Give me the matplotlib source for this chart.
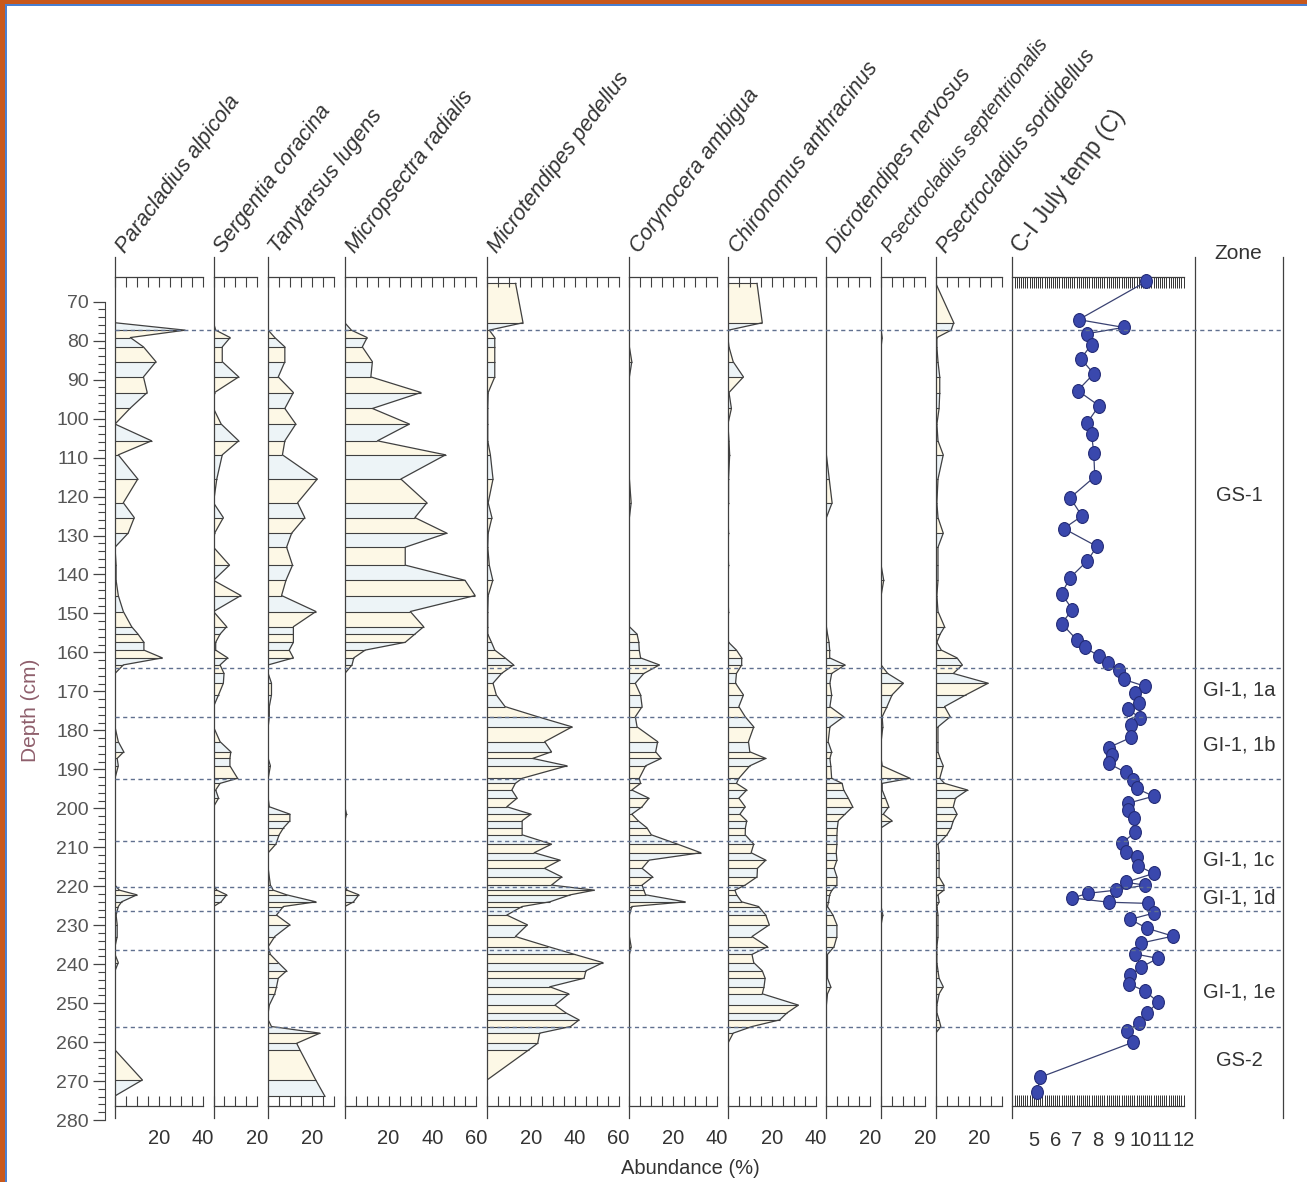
import numpy as np
import matplotlib
matplotlib.use('Agg')
import matplotlib.pyplot as plt
from matplotlib.lines import Line2D
from matplotlib.patches import Rectangle
from matplotlib.path import Path
from matplotlib.transforms import blended_transform_factory

plt.rcParams['font.family'] = ['Liberation Sans', 'DejaVu Sans']

# ---- chironomid counts (depth in cm, % abundance) ----
depth = [65.3, 75.4, 77.3, 79.2, 81.6, 85.4, 89.3, 93.3, 97.4, 101.4,
         105.7, 109.3, 115.5, 121.6, 125.4, 129.4, 133.0, 137.6, 141.5, 145.4,
         149.5, 153.4, 155.3, 157.4, 159.4, 161.4, 163.2, 165.4, 167.9, 170.9,
         173.9, 176.5, 179.1, 182.9, 185.5, 187.2, 189.1, 192.3, 193.6, 195.3,
         197.4, 199.6, 201.5, 203.2, 205.0, 206.8, 209.2, 211.4, 213.3, 215.4,
         217.6, 219.7, 221.0, 222.2, 224.0, 225.2, 227.4, 229.9, 232.9, 235.5,
         237.5, 239.6, 241.7, 243.6, 245.8, 247.6, 250.5, 252.5, 254.3, 256.0,
         257.7, 260.3, 262.0, 269.7, 273.8]

paracladius = [0, 0, 32, 7, 13, 18.7, 13, 14.7, 6.8, 0,
               16.7, 1.5, 10.4, 3.8, 8.8, 6, 0, 0.5, 0.5, 1.5,
               3.8, 7.6, 10.5, 13.2, 13.2, 21.6, 3.8, 0, 0, 0,
               0, 0, 0, 1.5, 4, 1, 1.5, 0, 0, 0,
               0, 0, 0, 0, 0, 0, 0, 0, 0, 0,
               0, 0, 2, 10, 3, 1.5, 0.5, 1, 1, 0,
               0, 1.5, 0, 0, 0, 0, 0, 0, 0, 0,
               0, 0, 0, 12.5, 0]

sergentia = [0, 0, 1, 7.6, 4, 4, 11.5, 0.5, 0, 3.5,
             11.5, 4, 1.5, 0, 4.5, 0.5, 0, 7.3, 0, 12.5,
             0, 6, 3, 1, 1, 6.5, 3, 4.8, 4.5, 2.3,
             0, 0, 0, 3, 7.9, 7.5, 7.5, 11, 3, 1,
             2.3, 0, 0, 0, 0, 0, 0, 0, 0, 0,
             0, 0, 1.5, 6, 3.5, 0, 0, 0, 0, 0,
             0, 0, 0, 0, 0, 0, 0, 0, 0, 0,
             0, 0, 0, 0, 0]

tanytarsus = [0, 0, 0, 3, 7.6, 7.6, 4.6, 11.5, 7.6, 12.6,
              7.6, 6.5, 22.4, 13.4, 16.7, 10.7, 8.4, 11.1, 8.1, 6.1,
              21.8, 11.5, 11.5, 11.5, 9.6, 11.5, 0, 0, 1.5, 1.5,
              0.5, 0.5, 0, 0, 0, 0, 1, 0, 0, 0,
              0, 0.5, 9.9, 9.9, 7, 5, 3.5, 0, 0, 0,
              0.5, 1, 2.3, 8.4, 21.8, 6.9, 3.8, 9.9, 3, 0,
              1, 4.6, 8.4, 4.6, 3.8, 3, 0.5, 0, 0, 1.5,
              23.6, 13, 14.5, 21.7, 25.8]

micropsectra = [0, 0, 3, 10.2, 8, 12.6, 11.9, 34.8, 12.6, 29.5,
                14.9, 46, 25.6, 37.5, 32, 46.6, 27.6, 27.6, 54.9, 59.5,
                29.9, 36, 32, 27.6, 9.3, 4.1, 3.3, 0, 0, 0,
                0, 0, 0, 0, 0, 0, 0, 0, 0, 0,
                0, 0, 0.8, 0, 0, 0, 0, 0, 0, 0,
                0, 0, 1, 6.4, 4, 0, 0, 0, 0, 0,
                0, 0, 0, 0, 0, 0, 0, 0, 0, 0,
                0, 0, 0, 0, 0]

microtendipes = [13, 16.4, 1, 3.5, 3.5, 3.5, 3.5, 0.5, 0.3, 0.3,
                 0.3, 1.5, 2.7, 0.5, 2.2, 0.5, 0.3, 1, 2.6, 0.5,
                 0.3, 0.3, 0.3, 2, 3.5, 8.2, 12.1, 6.6, 2.7, 4.2,
                 8.2, 23.1, 38.8, 26.3, 29.4, 20.8, 36.5, 16, 12.9, 11.3,
                 13.7, 9, 20, 16, 16, 16, 29.4, 21.5, 33.3, 26.2,
                 34.1, 29.4, 49, 38, 28.6, 16, 9, 18.4, 12.9, 28,
                 40, 52.9, 45.1, 44.3, 28.6, 37.3, 31, 36, 42, 38.1,
                 24, 23.1, 19, 0, 0]

corynocera = [0, 0, 0, 0, 0, 1.1, 0, 0, 0, 0,
              0, 0, 0, 0.8, 0, 0, 0, 0, 0, 0,
              0, 0, 3.5, 4.3, 4.5, 5.1, 13.7, 6.6, 2.7, 5.1,
              5.8, 2.7, 3.5, 12.9, 12, 14.5, 7.4, 4.5, 5.1, 1.1,
              8.9, 5.8, 1.1, 4, 8, 10, 22, 32.6, 9, 5.8,
              10.6, 5.8, 6.6, 7.4, 25.5, 1.1, 0, 0, 0, 0.8,
              0, 0, 0, 0, 0, 0, 0, 0, 0, 0,
              0, 0, 0, 0, 0]

chironomus = [13.3, 15.7, 0.3, 0, 0.5, 2.4, 7.1, 0.5, 1.6, 0,
              0.5, 0.8, 0.3, 0.3, 0, 0.3, 0, 0.3, 0, 0,
              0.3, 0, 0, 0.3, 3.9, 6.3, 6.3, 3.9, 3.5, 7.1,
              5, 7.9, 11.8, 9.4, 10, 17.3, 10, 5, 3.9, 8.6,
              5, 7.9, 5.5, 8.6, 8, 7.9, 11.8, 10.6, 17.3, 13.5,
              13.3, 7.9, 3.2, 4, 6.3, 14, 17.3, 18.9, 11, 18.1,
              11, 11.8, 15.7, 17, 16.5, 15.7, 32.2, 27, 23.6, 11,
              2.4, 0, 0, 0, 0]

dicrotendipes = [0, 0, 0, 0, 0, 0, 0, 0, 0, 0,
                 0, 0, 1.3, 2.6, 0, 0, 0, 0, 0, 0,
                 0, 0, 0.5, 1.2, 1.5, 1.5, 8.5, 2.4, 1.6, 2.4,
                 1.6, 7.9, 1.6, 0.8, 2.4, 1.6, 2, 2.4, 7.2, 7.9,
                 10, 12, 8.5, 5.4, 5, 4.8, 4.8, 4.5, 4.8, 3.5,
                 4.8, 4.8, 2.5, 1.5, 1, 0.5, 3, 4.8, 4.8, 3.5,
                 0.5, 0.5, 0.5, 0.5, 2, 0.5, 0, 0, 0, 0,
                 0, 0, 0, 0, 0]

ps_septentrionalis = [0, 0, 0, 0.5, 0, 0, 0, 0, 0, 0,
                      0, 0, 0, 0, 0, 0, 0, 0, 1.2, 0,
                      0, 0, 0, 0, 0, 0, 0, 3, 10.2, 5,
                      2.7, 0.5, 0.8, 0, 0, 0, 0.5, 13.2, 0.5, 0.5,
                      2, 3.5, 1, 5, 0, 0, 0, 0, 0, 0,
                      0, 0, 0, 0, 0, 0, 0.8, 0, 0, 0,
                      0, 0, 0, 0, 0, 0, 0, 0, 0, 0,
                      0, 0, 0, 0, 0]

ps_sordidellus = [0, 8.2, 7, 0.5, 0.5, 1, 1.8, 1.8, 1.5, 0.5,
                  1, 3.4, 1, 0.5, 1, 3.4, 1, 1, 1, 0.5,
                  1, 4, 2, 0.5, 2.5, 9.7, 12.1, 8, 23.9, 13.7,
                  4, 6.6, 1, 1, 1, 2, 3.4, 1.8, 4, 14.5,
                  9, 8, 9.7, 8, 7, 5.1, 1, 1.5, 1.5, 1.5,
                  1.5, 3.7, 3.7, 1, 1.5, 0.5, 1, 1, 1, 0.5,
                  0.5, 0.5, 1, 1.5, 3.4, 1.5, 0.5, 0.5, 1.5, 2.3,
                  0, 0, 0, 0, 0]

taxa_names = ['Paracladius alpicola', 'Sergentia coracina', 'Tanytarsus lugens',
              'Micropsectra radialis', 'Microtendipes pedellus', 'Corynocera ambigua',
              'Chironomus anthracinus', 'Dicrotendipes nervosus',
              'Psectrocladius septentrionalis', 'Psectrocladius sordidellus']
taxa_values = [paracladius, sergentia, tanytarsus, micropsectra, microtendipes,
               corynocera, chironomus, dicrotendipes, ps_septentrionalis, ps_sordidellus]
scale_max = [40, 20, 30, 60, 60, 40, 40, 20, 20, 30]

# chironomid-inferred July temperature
temp_depth = [64.8, 74.6, 76.6, 78.2, 81.0, 84.6, 88.5, 92.8, 96.7, 101.0,
              104.0, 108.7, 114.9, 120.3, 125.0, 128.2, 132.8, 136.5, 140.8, 144.9,
              149.0, 152.6, 156.7, 158.7, 161.0, 162.8, 164.4, 166.9, 168.7, 170.5,
              173.1, 174.6, 176.7, 178.7, 181.8, 184.4, 186.2, 188.5, 190.8, 192.8,
              194.9, 196.9, 198.7, 200.5, 202.6, 206.1, 209.0, 211.3, 212.6, 214.7,
              216.7, 219.0, 219.7, 221.0, 221.8, 223.0, 224.1, 224.4, 226.9, 228.5,
              230.8, 232.8, 234.6, 237.4, 238.5, 240.8, 242.8, 245.1, 246.9, 249.7,
              252.6, 255.1, 257.2, 260.0, 269.0, 272.8]
july_temp = [10.26, 7.1, 9.2, 7.5, 7.7, 7.2, 7.8, 7.05, 8.05, 7.5,
             7.7, 7.8, 7.85, 6.7, 7.25, 6.4, 7.95, 7.5, 6.7, 6.3,
             6.8, 6.3, 7.0, 7.4, 8.05, 8.45, 9.0, 9.2, 10.2, 9.75,
             9.9, 9.4, 9.95, 9.55, 9.55, 8.5, 8.65, 8.5, 9.3, 9.65,
             9.8, 10.6, 9.4, 9.4, 9.7, 9.75, 9.1, 9.3, 9.8, 9.85,
             10.6, 9.3, 10.2, 8.85, 7.55, 6.8, 8.5, 10.35, 10.6, 9.5,
             10.3, 11.5, 10.0, 9.75, 10.8, 10.0, 9.5, 9.45, 10.2, 10.8,
             10.3, 9.9, 9.35, 9.65, 5.3, 5.15]

zone_bounds = [77.2, 164.1, 176.5, 192.5, 208.5, 220.1, 226.4, 236.3, 256.2]
zone_names = ['GS-1', 'GI-1, 1a', 'GI-1, 1b', 'GI-1, 1c', 'GI-1, 1d', 'GI-1, 1e', 'GS-2']
zone_label_depth = [119.7, 169.7, 183.8, 213.3, 223.0, 247.2, 264.7]

# ---- layout, in pixels of the 1307 x 1182 page ----
W, H = 1307, 1182
Y70, PX_CM = 301.7, 3.897          # depth 70 cm sits at y=301.7, 3.9 px per cm
TOP, BOT = 276.7, 1105.7           # top / bottom scale bars of the panels
LINE_TOP, LINE_BOT = 257, 1118     # vertical panel lines run a bit past them
PX_PCT = 2.19
GAP = 10.9
INK = '#404040'
TXT = '#333333'
TITLE_ROT = 53


def depth_at(py):
    return 70 + (py - Y70) / PX_CM


fig = plt.figure(figsize=(W / 100, H / 100), dpi=100)


def panel(left, width, top=TOP, bot=BOT):
    ax = fig.add_axes([left / W, 1 - bot / H, width / W, (bot - top) / H])
    ax.set_ylim(depth_at(bot), depth_at(top))
    ax.patch.set_visible(False)
    ax.set_yticks([])
    ax.spines['right'].set_visible(False)
    ax.spines['left'].set_bounds(depth_at(LINE_BOT), depth_at(LINE_TOP))
    for s in ax.spines.values():
        s.set_color(INK)
        s.set_linewidth(0.9)
    return ax


bands = ['#fdf8e6', '#edf4f7']
left = 115
axes = []
for name, vals, vmax in zip(taxa_names, taxa_values, scale_max):
    width = vmax * PX_PCT
    ax = panel(left, width)
    ax.set_xlim(0, vmax)
    for i in range(len(depth) - 1):
        ax.fill_betweenx(depth[i:i + 2], 0, vals[i:i + 2], color=bands[i % 2], lw=0)
    ax.hlines(depth, 0, vals, color=INK, lw=0.8)
    ax.plot(vals, depth, color=INK, lw=0.9)
    ticks = np.arange(0, vmax + 1, 5)
    ax.set_xticks(ticks)
    ax.set_xticklabels([str(t) if t in (20, 40, 60) else '' for t in ticks])
    ax.tick_params(axis='x', direction='in', length=7, width=0.8, color=INK,
                   top=True, bottom=True, labelsize=14.5, labelcolor=TXT, pad=17)
    size = 14.3 if len(name) > 27 else 15.5
    fig.text((left + 10) / W, 1 - 254 / H, name, rotation=TITLE_ROT, rotation_mode='anchor',
             ha='left', va='baseline', fontsize=size, style='italic', color=TXT)
    axes.append(ax)
    left += width + GAP

# temperature panel
tax = panel(left, 8 * 21.4)
tax.set_xlim(4, 12)
tax.set_xticks(range(5, 13))
tax.set_xticks(np.arange(4, 12.01, 0.1), minor=True)
tax.tick_params(axis='x', which='both', direction='in', length=8, width=0.7, color='#333',
                top=True, bottom=True, labelsize=14.5, labelcolor=TXT, pad=18)
circle = Path.unit_circle()
oval = Path(circle.vertices * [0.85, 1.0], circle.codes)
tax.plot(july_temp, temp_depth, color='#3a4272', lw=0.9, marker=oval, ms=10,
         mfc='#3a48ad', mec='#252d78', mew=0.8, clip_on=False, zorder=5)
fig.text((left + 10) / W, 1 - 254 / H, 'C-I July temp (C)', rotation=TITLE_ROT,
         rotation_mode='anchor', ha='left', va='baseline', fontsize=16.5, color=TXT)

# zone column
zax = panel(1195, 88)
zax.spines['right'].set_visible(True)
zax.spines['right'].set_bounds(depth_at(LINE_BOT), depth_at(LINE_TOP))
zax.spines['top'].set_visible(False)
zax.spines['bottom'].set_visible(False)
zax.set_xticks([])
for name, d in zip(zone_names, zone_label_depth):
    zax.text(0.5, d, name, transform=zax.get_yaxis_transform(), ha='center',
             va='center', fontsize=14.5, color=TXT)
fig.text(1238 / W, 1 - 253 / H, 'Zone', ha='center', va='center', fontsize=15, color=TXT)

# depth axis
DTOP, DBOT = 290, 1125
dax = fig.add_axes([105 / W, 1 - DBOT / H, 1 / W, (DBOT - DTOP) / H])
dax.set_ylim(depth_at(DBOT), depth_at(DTOP))
dax.patch.set_visible(False)
for s in ['top', 'right', 'bottom']:
    dax.spines[s].set_visible(False)
dax.spines['left'].set_bounds(70, 280)
dax.spines['left'].set_color('#444')
dax.set_xticks([])
dax.set_yticks(range(70, 281, 10))
dax.set_yticks(range(70, 281, 2), minor=True)
dax.tick_params(axis='y', which='major', direction='out', length=8.5, width=0.9,
                color='#444', labelsize=14, labelcolor='#555', pad=3)
dax.tick_params(axis='y', which='minor', direction='out', length=5, width=0.8, color='#444')
fig.text(31 / W, 1 - 710 / H, 'Depth (cm)', rotation=90, ha='center', va='center',
         fontsize=15, color='#8f5f6c')
fig.text(690 / W, 1 - 1168 / H, 'Abundance (%)', ha='center', va='center',
         fontsize=14.5, color=TXT)

# zone boundaries across all panels
trans = blended_transform_factory(fig.transFigure, axes[0].transData)
for d in zone_bounds:
    fig.add_artist(Line2D([115 / W, 1283 / W], [d, d], transform=trans,
                          color='#60708f', lw=1.0, ls=(0, (3, 2.5)), zorder=6))

# page frame (orange edge with thin blue rule, left and top)
fig.add_artist(Rectangle((0, 0), 5 / W, 1, transform=fig.transFigure, color='#c8581c', lw=0))
fig.add_artist(Rectangle((0, 1 - 3.5 / H), 1, 3.5 / H, transform=fig.transFigure,
                         color='#c8581c', lw=0))
fig.add_artist(Rectangle((5 / W, 0), 2 / W, 1 - 3.5 / H, transform=fig.transFigure,
                         color='#4a7fd0', lw=0))
fig.add_artist(Rectangle((5 / W, 1 - 5.5 / H), 1 - 5 / W, 2 / H, transform=fig.transFigure,
                         color='#4a7fd0', lw=0))

fig.savefig('out.png', dpi=100)
